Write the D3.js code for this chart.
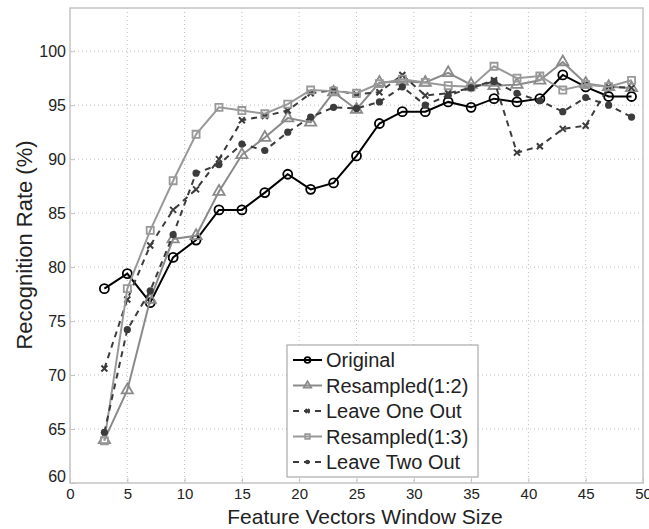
<!DOCTYPE html>
<html>
<head>
<meta charset="utf-8">
<script src="https://d3js.org/d3.v7.min.js"></script>
<style>
  body { margin: 0; background: #fff; }
  text { font-family: "Liberation Sans", Arial, sans-serif; fill: #222; }
</style>
</head>
<body>
<svg width="649" height="529"></svg>
<script>
// data
var windowSize = [3,5,7,9,11,13,15,17,19,21,23,25,27,29,31,33,35,37,39,41,43,45,47,49];
var original    = [78.0,79.4,76.7,80.9,82.5,85.3,85.3,86.9,88.6,87.2,87.8,90.3,93.3,94.4,94.4,95.3,94.8,95.6,95.3,95.6,97.8,96.7,95.8,95.8];
var resampled12 = [64.0,68.6,77.0,82.6,82.9,87.0,90.4,92.0,93.8,93.4,96.2,94.6,97.1,97.2,97.1,98.0,96.9,96.8,96.9,97.3,99.0,97.0,96.7,96.6];
var leaveOneOut = [70.6,77.0,82.0,85.3,87.2,90.0,93.6,94.0,94.5,96.1,96.4,96.0,96.2,97.8,95.9,96.1,96.6,97.3,90.6,91.2,92.8,93.1,96.7,96.6];
var resampled13 = [63.9,78.0,83.4,88.0,92.3,94.8,94.5,94.2,95.1,96.4,96.3,96.1,97.0,97.4,97.1,96.8,96.7,98.6,97.5,97.7,96.4,96.9,96.7,97.3];
var leaveTwoOut = [64.7,74.2,77.8,83.0,88.7,89.5,91.4,90.8,92.5,93.9,94.8,94.7,95.3,96.7,95.0,95.9,96.6,97.2,96.1,95.4,94.4,95.7,95.0,93.9];
var xTicks = [0,5,10,15,20,25,30,35,40,45,50];
var yTicks = [60,65,70,75,80,85,90,95,100];

var series = [
  {name: "Original",        values: original,    color: "#000",    dash: null,  marker: "circle"},
  {name: "Resampled(1:2)",  values: resampled12, color: "#8a8a8a", dash: null,  marker: "triangle"},
  {name: "Leave One Out",   values: leaveOneOut, color: "#3c3c3c", dash: "6,5", marker: "x"},
  {name: "Resampled(1:3)",  values: resampled13, color: "#999",    dash: null,  marker: "square"},
  {name: "Leave Two Out",   values: leaveTwoOut, color: "#3c3c3c", dash: "6,5", marker: "dot"}
];

var svg = d3.select("svg");
var plotLeft = 70, plotRight = 643, plotTop = 8, plotBottom = 483;

var x = d3.scaleLinear().domain([0, 50]).range([plotLeft, plotRight]);
var y = d3.scaleLinear().domain([60, 104]).range([plotBottom, plotTop]);

// grid
var grid = svg.append("g");
grid.selectAll(".gx").data(xTicks.slice(1, -1)).enter().append("line")
    .attr("x1", d => x(d)).attr("x2", d => x(d))
    .attr("y1", plotTop).attr("y2", plotBottom)
    .attr("stroke", "#bdbdbd").attr("stroke-dasharray", "1,3");
grid.selectAll(".gy").data(yTicks.slice(1)).enter().append("line")
    .attr("x1", plotLeft).attr("x2", plotRight)
    .attr("y1", d => y(d)).attr("y2", d => y(d))
    .attr("stroke", "#bdbdbd").attr("stroke-dasharray", "1,3");

// axes box
svg.append("rect")
    .attr("x", plotLeft).attr("y", plotTop)
    .attr("width", plotRight - plotLeft).attr("height", plotBottom - plotTop)
    .attr("fill", "none").attr("stroke", "#c4c4c4").attr("stroke-width", 1.5);

var xAxis = svg.append("g").attr("transform", "translate(0," + plotBottom + ")")
    .call(d3.axisBottom(x).tickValues(xTicks).tickSizeInner(-5).tickSizeOuter(0).tickPadding(5));
var yAxis = svg.append("g").attr("transform", "translate(" + plotLeft + ",0)")
    .call(d3.axisLeft(y).tickValues(yTicks).tickSizeInner(-5).tickSizeOuter(0).tickPadding(4));
[xAxis, yAxis].forEach(function (a) {
  a.select(".domain").remove();
  a.selectAll("line").attr("stroke", "#c4c4c4").attr("stroke-width", 1);
  a.selectAll("text").style("font-size", "16px").style("font-family", "Liberation Sans, Arial, sans-serif").attr("fill", "#222");
});
xAxis.selectAll("text").style("font-size", "15px");
// MATLAB style: 60 sits up-left of the origin
yAxis.selectAll(".tick").filter(d => d === 60).select("text").attr("dy", "-0.1em");

// axis titles
svg.append("text")
    .attr("x", 365).attr("y", 524)
    .attr("text-anchor", "middle")
    .style("font-size", "21px")
    .text("Feature Vectors Window Size");
svg.append("text")
    .attr("transform", "translate(32,245) rotate(-90)")
    .attr("text-anchor", "middle")
    .style("font-size", "22px")
    .text("Recognition Rate (%)");

// markers
function drawMarker(g, type, color, size) {
  var s = size || 1;
  if (type === "circle") {
    g.append("circle").attr("r", 4.5 * s).attr("fill", "none").attr("stroke", color).attr("stroke-width", 1.8);
  } else if (type === "triangle") {
    g.append("path").attr("d", d3.symbol(d3.symbolTriangle, 55 * s * s)())
      .attr("fill", "none").attr("stroke", color).attr("stroke-width", 1.8);
  } else if (type === "square") {
    g.append("path").attr("d", d3.symbol(d3.symbolSquare, 50 * s * s)())
      .attr("fill", "none").attr("stroke", color).attr("stroke-width", 1.8);
  } else if (type === "x") {
    var r = 3 * s;
    g.append("path").attr("d", "M" + (-r) + "," + (-r) + "L" + r + "," + r + "M" + (-r) + "," + r + "L" + r + "," + (-r))
      .attr("fill", "none").attr("stroke", color).attr("stroke-width", 2);
  } else if (type === "dot") {
    g.append("circle").attr("r", 3.6 * s).attr("fill", color).attr("stroke", "none");
  }
}

var line = d3.line().x(d => x(d[0])).y(d => y(d[1]));

series.forEach(function (s) {
  var pts = windowSize.map((w, i) => [w, s.values[i]]);
  var g = svg.append("g");
  g.append("path").datum(pts)
      .attr("d", line)
      .attr("fill", "none")
      .attr("stroke", s.color)
      .attr("stroke-width", 2)
      .attr("stroke-dasharray", s.dash);
  g.selectAll(".m").data(pts).enter().append("g")
      .attr("transform", d => "translate(" + x(d[0]) + "," + y(d[1]) + ")")
      .each(function () { drawMarker(d3.select(this), s.marker, s.color, 1); });
});

// legend
var lg = svg.append("g").attr("transform", "translate(287,345)");
lg.append("rect").attr("width", 191).attr("height", 132)
    .attr("fill", "#fff").attr("stroke", "#aaa").attr("stroke-width", 1.2);
series.forEach(function (s, i) {
  var cy = 15 + i * 25.5;
  lg.append("line").attr("x1", 6).attr("x2", 35).attr("y1", cy).attr("y2", cy)
      .attr("stroke", s.color).attr("stroke-width", 2)
      .attr("stroke-dasharray", s.dash);
  var mg = lg.append("g").attr("transform", "translate(20.5," + cy + ")");
  drawMarker(mg, s.marker, s.color, 0.65);
  lg.append("text").attr("x", 39).attr("y", cy).attr("dy", "0.36em")
      .style("font-size", "20px").text(s.name);
});
</script>
</body>
</html>
